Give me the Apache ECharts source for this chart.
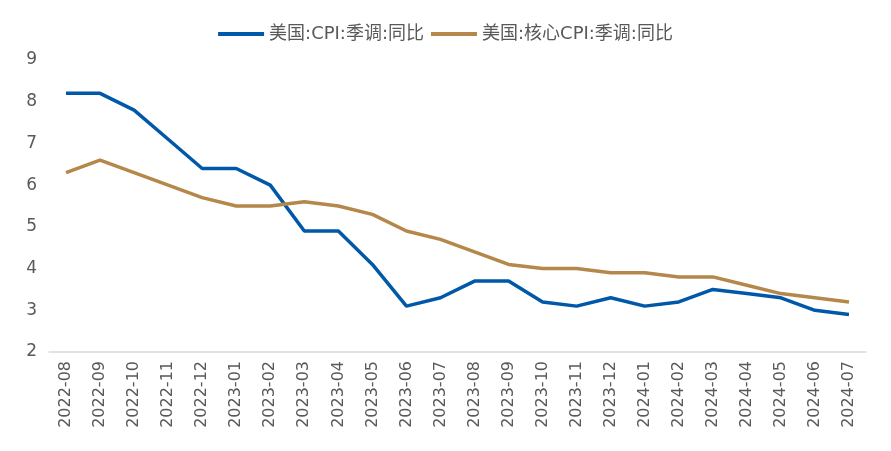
<!DOCTYPE html>
<html><head><meta charset="utf-8">
<script src="https://cdn.jsdelivr.net/npm/echarts@6/dist/echarts.min.js"></script>
<style>html,body{margin:0;padding:0;background:#fff}#c{width:891px;height:451px}</style>
</head><body><div id="c"></div>
<script>
const categories = ['2022-08','2022-09','2022-10','2022-11','2022-12','2023-01','2023-02','2023-03','2023-04','2023-05','2023-06','2023-07','2023-08','2023-09','2023-10','2023-11','2023-12','2024-01','2024-02','2024-03','2024-04','2024-05','2024-06','2024-07'];
const cpi = [8.2,8.2,7.8,7.1,6.4,6.4,6.0,4.9,4.9,4.1,3.1,3.3,3.7,3.7,3.2,3.1,3.3,3.1,3.2,3.5,3.4,3.3,3.0,2.9];
const coreCpi = [6.3,6.6,6.3,6.0,5.7,5.5,5.5,5.6,5.5,5.3,4.9,4.7,4.4,4.1,4.0,4.0,3.9,3.9,3.8,3.8,3.6,3.4,3.3,3.2];
const seriesNames = ['美国:CPI:季调:同比','美国:核心CPI:季调:同比'];
const font = '"DejaVu Sans", "Noto Sans CJK SC", sans-serif';
const chart = echarts.init(document.getElementById('c'));
chart.setOption({
  animation:false,
  color:['#0058A8','#B5874A'],
  legend:{top:20,left:'center',itemWidth:46,itemHeight:4,itemGap:7,icon:'rect',
    textStyle:{color:'#595959',fontSize:18,fontFamily:font},
    data:seriesNames},
  grid:{left:49,right:25,top:60,bottom:99},
  xAxis:{type:'category',data:categories,boundaryGap:true,
    axisLine:{lineStyle:{color:'#d9d9d9',width:1.5}},axisTick:{show:false},
    axisLabel:{rotate:90,color:'#595959',fontSize:16,fontFamily:font,interval:0,margin:9}},
  yAxis:{type:'value',min:2,max:9,interval:1,
    axisLine:{show:false},axisTick:{show:false},splitLine:{show:false},
    axisLabel:{color:'#595959',fontSize:17,fontFamily:font,margin:12}},
  series:[
    {name:seriesNames[0],type:'line',data:cpi,symbol:'none',lineStyle:{width:3.5}},
    {name:seriesNames[1],type:'line',data:coreCpi,symbol:'none',lineStyle:{width:3.5}}
  ]
});
</script></body></html>
